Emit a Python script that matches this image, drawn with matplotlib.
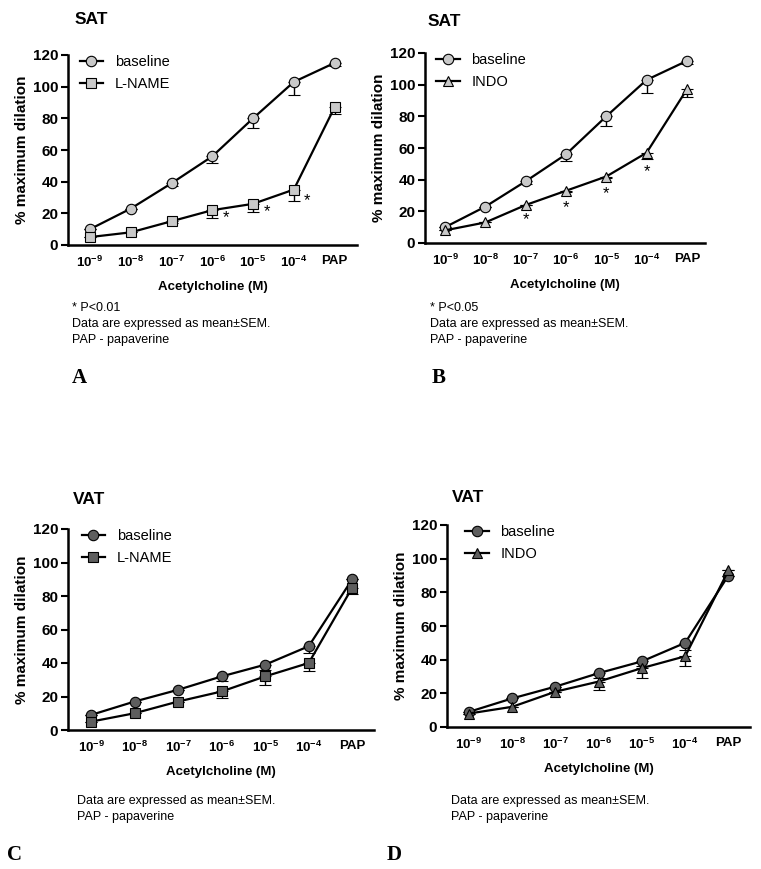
import matplotlib
matplotlib.use("Agg")
import matplotlib.pyplot as plt
from matplotlib.lines import Line2D
import numpy as np

plt.rcParams['font.family'] = 'Liberation Sans'
plt.rcParams['mathtext.fontset'] = 'custom'
plt.rcParams['mathtext.rm'] = 'Liberation Sans:bold'
plt.rcParams['mathtext.bf'] = 'Liberation Sans:bold'

# x categories
doses = ['$10^{-9}$', '$10^{-8}$', '$10^{-7}$', '$10^{-6}$', '$10^{-5}$', '$10^{-4}$', 'PAP']

# SAT (panels A, B)
sat_baseline = [10, 23, 39, 56, 80, 103, 115]
sat_baseline_err = [0, 0, 2, 4, 6, 8, 2]
sat_lname = [5, 8, 15, 22, 26, 35, 87]
sat_lname_err = [0, 0, 1, 5, 5, 7, 4]
sat_indo = [8, 13, 24, 33, 42, 57, 97]
sat_indo_err = [0, 0, 0, 1, 1, 4, 5]

# VAT (panels C, D)
vat_baseline = [9, 17, 24, 32, 39, 50, 90]
vat_baseline_err = [0, 0, 0, 3, 3, 4, 0]
vat_lname = [5, 10, 17, 23, 32, 40, 85]
vat_lname_err = [0, 0, 0, 4, 5, 5, 4]
vat_indo = [8, 12, 21, 27, 35, 42, 93]
vat_indo_err = [0, 0, 0, 5, 6, 6, 0]

# significance stars (index, y position)
stars_a = [(3, 17), (4, 21), (5, 28)]
stars_b = [(2, 14.5), (3, 22.5), (4, 31.5), (5, 45)]

W, H = 761, 869
fig = plt.figure(figsize=(W / 100, H / 100), dpi=100)


def px_axes(left, top, right, bottom):
    return fig.add_axes([left / W, 1 - bottom / H, (right - left) / W, (bottom - top) / H])


def panel(ax, series, face, xlim, leg_x):
    x = np.arange(len(doses))
    handles = []
    for y, err, marker, label in series:
        ax.errorbar(x, y, yerr=[err, np.zeros(len(err))], color='black', lw=1.6,
                    marker=marker, ms=7.5, mfc=face, mec='black', mew=0.8,
                    capsize=4, elinewidth=1.0, capthick=1.0,
                    clip_on=False, zorder=3)
        handles.append(Line2D([], [], color='black', lw=1.6, marker=marker, ms=7.5,
                              mfc=face, mec='black', mew=0.8, label=label))
    ax.set_xlim(*xlim)
    ax.set_ylim(0, 120)
    ax.set_yticks([0, 20, 40, 60, 80, 100, 120])
    ax.set_xticks(x)
    ax.set_xticklabels(doses)
    for s in ['top', 'right']:
        ax.spines[s].set_visible(False)
    for s in ['left', 'bottom']:
        ax.spines[s].set_linewidth(1.8)
    ax.tick_params(axis='x', length=0, pad=7, labelsize=9.5)
    ax.tick_params(axis='y', length=5, width=1.5, pad=2, labelsize=11)
    for t in ax.get_xticklabels() + ax.get_yticklabels():
        t.set_fontweight('bold')
    ax.set_ylabel('% maximum dilation', fontsize=11, fontweight='bold', labelpad=3)
    ax.set_xlabel('Acetylcholine (M)', fontsize=9.5, fontweight='bold', labelpad=8)
    ax.legend(handles=handles, loc='upper left', bbox_to_anchor=(leg_x, 1.0),
              frameon=False, fontsize=10.5, handlelength=1.6, handletextpad=0.8,
              labelspacing=0.55, borderpad=0, borderaxespad=0)


light = '#c9c9c9'
dark = '#5e5e5e'

axA = px_axes(68, 55, 357, 245)
panel(axA, [(sat_baseline, sat_baseline_err, 'o', 'baseline'),
            (sat_lname, sat_lname_err, 's', 'L-NAME')], light, (-0.54, 6.55), 0.04)
for i, yv in stars_a:
    axA.text(i + 0.33, yv, '*', ha='center', va='center', fontsize=12)

axB = px_axes(425, 53, 705, 243)
panel(axB, [(sat_baseline, sat_baseline_err, 'o', 'baseline'),
            (sat_indo, sat_indo_err, '^', 'INDO')], light, (-0.5, 6.45), 0.04)
for i, yv in stars_b:
    axB.text(i, yv, '*', ha='center', va='center', fontsize=12)

axC = px_axes(68, 529, 374, 730)
panel(axC, [(vat_baseline, vat_baseline_err, 'o', 'baseline'),
            (vat_lname, vat_lname_err, 's', 'L-NAME')], dark, (-0.53, 6.5), 0.045)

axD = px_axes(447, 525, 750, 727)
panel(axD, [(vat_baseline, vat_baseline_err, 'o', 'baseline'),
            (vat_indo, vat_indo_err, '^', 'INDO')], dark, (-0.51, 6.5), 0.06)


def note(x, y, s, **kw):
    fig.text(x / W, 1 - y / H, s, va='center', ha='left', **kw)


note(75, 20, 'SAT', fontsize=12.5, fontweight='bold')
note(428, 21, 'SAT', fontsize=12.5, fontweight='bold')
note(73, 500, 'VAT', fontsize=12.5, fontweight='bold')
note(452, 498, 'VAT', fontsize=12.5, fontweight='bold')

note(72, 308, '* P<0.01', fontsize=9)
note(72, 324, 'Data are expressed as mean\u00b1SEM.', fontsize=9)
note(72, 340, 'PAP - papaverine', fontsize=9)
note(72, 378, 'A', fontsize=15, fontweight='bold', family='Liberation Serif')

note(430, 308, '* P<0.05', fontsize=9)
note(430, 324, 'Data are expressed as mean\u00b1SEM.', fontsize=9)
note(430, 340, 'PAP - papaverine', fontsize=9)
note(432, 378, 'B', fontsize=15, fontweight='bold', family='Liberation Serif')

note(77, 801, 'Data are expressed as mean\u00b1SEM.', fontsize=9)
note(77, 817, 'PAP - papaverine', fontsize=9)
note(7, 855, 'C', fontsize=15, fontweight='bold', family='Liberation Serif')

note(451, 801, 'Data are expressed as mean\u00b1SEM.', fontsize=9)
note(451, 817, 'PAP - papaverine', fontsize=9)
note(387, 855, 'D', fontsize=15, fontweight='bold', family='Liberation Serif')

fig.savefig('out.png', dpi=100)
